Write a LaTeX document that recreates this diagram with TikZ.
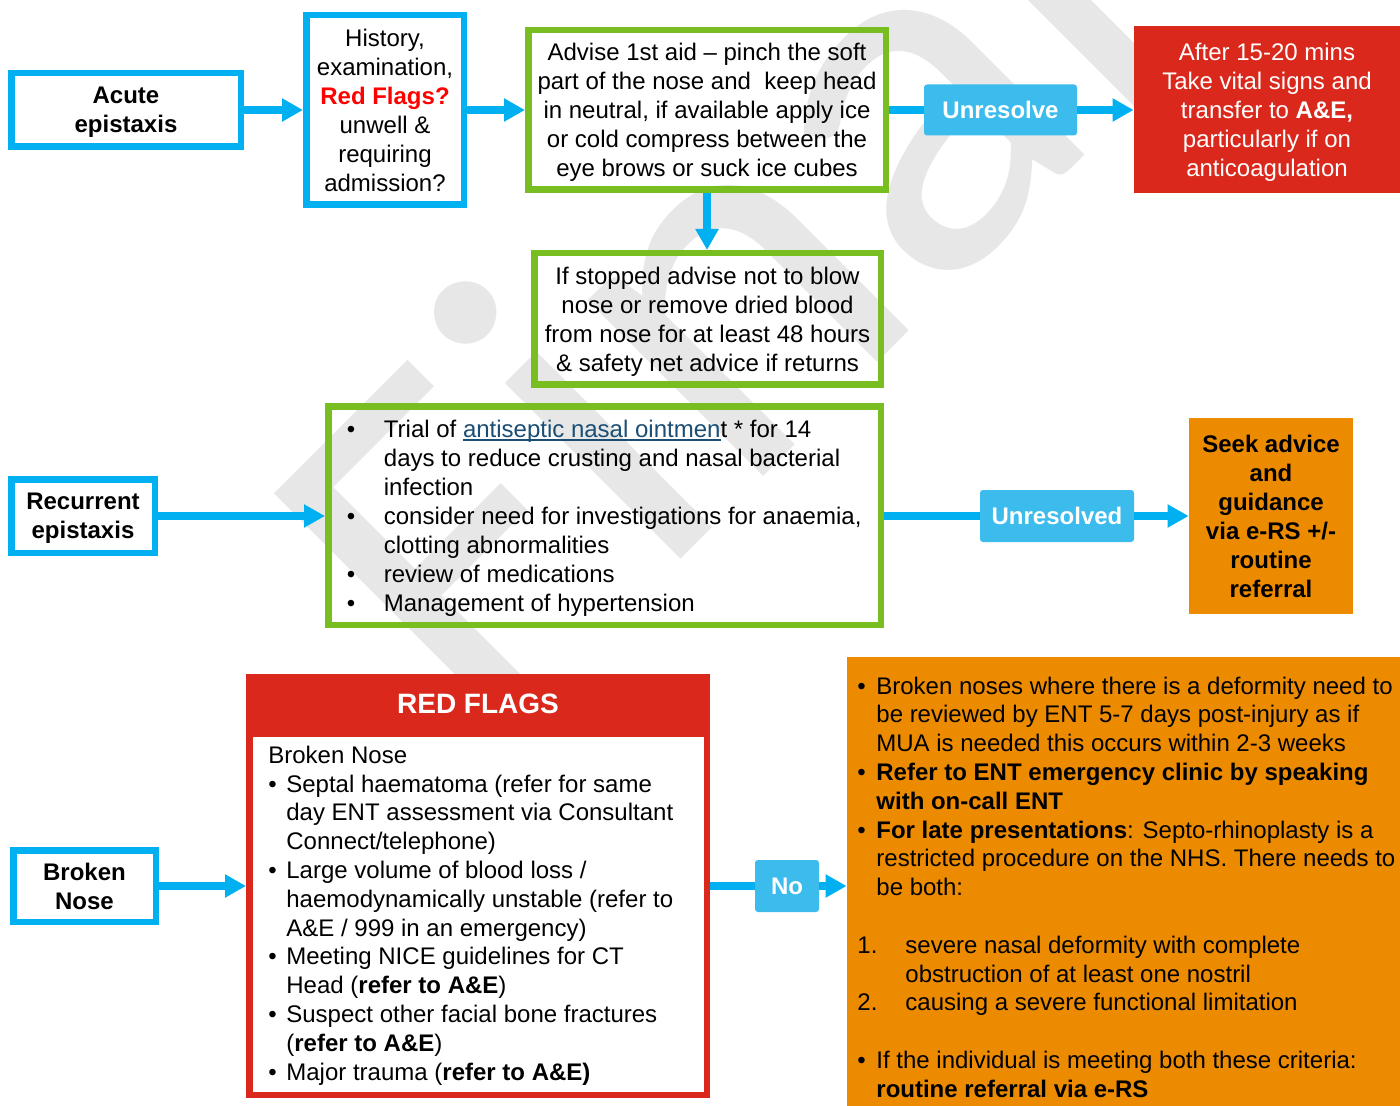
\documentclass[tikz,border=0pt]{standalone}
\usepackage{fontspec}
\setmainfont{Liberation Sans}
\newfontfamily\wmfont{Carlito}
\usetikzlibrary{arrows.meta,calc}
\definecolor{nhsblue}{HTML}{00B0F0}
\definecolor{lblue}{HTML}{3BBCEC}
\definecolor{boxgreen}{HTML}{78BE21}
\definecolor{boxred}{HTML}{DA291C}
\definecolor{boxorange}{HTML}{ED8B00}
\definecolor{linkblue}{HTML}{1A4E74}
\definecolor{wmgray}{HTML}{E7E7E7}
\definecolor{flagred}{HTML}{FF0000}
\newcommand\myul[1]{\setbox0\hbox{#1}\rlap{\rule[-1.6pt]{\wd0}{0.7pt}}\box0}
\newcommand\bu[1]{\makebox[#1][l]{•}}
\begin{document}
\begin{tikzpicture}[x=0.5pt,y=-0.5pt,
  base/.style={font=\fontsize{12}{14.5}\selectfont, inner sep=0pt},
  bluebox/.style={base, draw=nhsblue, line width=3.25pt, align=center},
  greenbox/.style={base, draw=boxgreen, line width=3.25pt},
  tag/.style={base, fill=lblue, text=white, font=\bfseries\fontsize{12}{14.5}\selectfont, rounded corners=1.5pt},
  conn/.style={draw=nhsblue, line width=4pt},
  arr/.style={conn, -{Triangle[length=10.5pt,width=11pt]}},
  txt/.style={base, anchor=west, align=left}
]
\fill[white] (0,0) rectangle (1400,1106);
\useasboundingbox (0,0) rectangle (1400,1106);

% watermark
\begin{scope}
\clip (0,0) rectangle (1400,1106);
\node[rotate=45, anchor=base west, inner sep=0pt, text=wmgray,
      font=\wmfont\fontsize{260}{300}\selectfont] (wm) at (485,755) {Final};
\end{scope}

% top row
\node[bluebox, minimum width=114.75pt, minimum height=36.75pt,
      font=\bfseries\fontsize{12}{14.5}\selectfont] (acute) at (126,110) {Acute\\\smash{epistaxis}};
\node[bluebox, minimum width=78.75pt, minimum height=94.75pt] (history) at (385,110)
  {History,\\examination,\\\textcolor{flagred}{\bfseries Red Flags?}\\unwell \&\\requiring\\admission?};
\node[greenbox, align=center, minimum width=178.75pt, minimum height=79.75pt] (advise) at (707,110)
  {Advise 1st aid \textendash{} pinch the soft\\part of the nose and\ \ keep head\\in neutral, if available apply ice\\or cold compress between the\\\smash{eye brows or suck ice cubes}};
\node[tag, minimum width=76.5pt, minimum height=25.5pt] (unres1) at (1000.5,110) {Unresolve};
\node[base, fill=boxred, text=white, align=center, minimum width=133pt, minimum height=83.5pt] (redbox) at (1267,109.5)
  {After 15-20 mins\\Take vital signs and\\transfer to \textbf{A\&E,}\\particularly if on\\\smash{anticoagulation}};
\node[greenbox, align=center, minimum width=173.25pt, minimum height=65.75pt] (stop) at (707.5,319)
  {If stopped advise not to blow\\nose or remove dried blood\\from nose for at least 48 hours\\\smash{\& safety net advice if returns}};

% recurrent row
\node[bluebox, minimum width=71.75pt, minimum height=36.75pt,
      font=\bfseries\fontsize{12}{14.5}\selectfont] (recurrent) at (83,516) {Recurrent\\\smash{epistaxis}};
\node[greenbox, minimum width=276.25pt, minimum height=109.25pt] (rec) at (604.5,515.5) {};
\node[txt] (rectext) at (346.5,516)
  {\bu{18.5pt}Trial of \textcolor{linkblue}{\myul{antiseptic nasal ointmen}}t * for 14\\
   \hspace*{18.5pt}days to reduce crusting and nasal bacterial\\
   \hspace*{18.5pt}infection\\
   \bu{18.5pt}consider need for investigations for anaemia,\\
   \hspace*{18.5pt}clotting abnormalities\\
   \bu{18.5pt}review of medications\\
   \smash{\bu{18.5pt}Management of hypertension}};
\node[tag, minimum width=77pt, minimum height=26pt] (unres2) at (1057,516) {Unresolved};
\node[base, fill=boxorange, align=center, font=\bfseries\fontsize{12}{14.5}\selectfont,
      minimum width=82pt, minimum height=98pt] (seek) at (1271,516)
  {Seek advice\\and\\guidance\\via e-RS +/-\\routine\\referral};

% broken nose row
\node[bluebox, minimum width=71.25pt, minimum height=35.75pt,
      font=\bfseries\fontsize{12}{14.5}\selectfont] (broken) at (84.5,886) {Broken\\Nose};
\node[base, fill=boxred, text=white, font=\bfseries\fontsize{14}{16}\selectfont,
      minimum width=232pt, minimum height=29.5pt] (rfhead) at (478,703.5) {RED FLAGS};
\node[base, draw=boxred, fill=white, line width=3.25pt,
      minimum width=228.75pt, minimum height=180.75pt] (rfbody) at (478,914) {};
\node[txt, font=\fontsize{12}{14.4}\selectfont] (rftext) at (268,913)
  {Broken Nose\\
   \bu{9pt}Septal haematoma (refer for same\\
   \hspace*{9pt}day ENT assessment via Consultant\\
   \hspace*{9pt}Connect/telephone)\\
   \bu{9pt}Large volume of blood loss /\\
   \hspace*{9pt}haemodynamically unstable (refer to\\
   \hspace*{9pt}A\&E / 999 in an emergency)\\
   \bu{9pt}Meeting NICE guidelines for CT\\
   \hspace*{9pt}Head (\textbf{refer to A\&E})\\
   \bu{9pt}Suspect other facial bone fractures\\
   \hspace*{9pt}(\textbf{refer to A\&E})\\
   \smash{\bu{9pt}Major trauma (\textbf{refer to A\&E)}}};
\node[tag, minimum width=32pt, minimum height=26pt] (no) at (787,886) {No};
\node[base, fill=boxorange, minimum width=276.5pt, minimum height=224.5pt] (orange) at (1123.5,881.5) {};
\node[txt, font=\fontsize{12}{14.4}\selectfont] (otext) at (857,887)
  {\bu{9.5pt}Broken noses where there is a deformity need to\\
   \hspace*{9.5pt}be reviewed by ENT 5-7 days post-injury as if\\
   \hspace*{9.5pt}MUA is needed this occurs within 2-3 weeks\\
   \bu{9.5pt}\textbf{Refer to ENT emergency clinic by speaking}\\
   \hspace*{9.5pt}\textbf{with on-call ENT}\\
   \bu{9.5pt}\textbf{For late presentations}: Septo-rhinoplasty is a\\
   \hspace*{9.5pt}restricted procedure on the NHS. There needs to\\
   \hspace*{9.5pt}be both:\\[14.4pt]
   \makebox[24pt][l]{1.}severe nasal deformity with complete\\
   \hspace*{24pt}obstruction of at least one nostril\\
   \makebox[24pt][l]{2.}causing a severe functional limitation\\[14.4pt]
   \bu{9.5pt}If the individual is meeting both these criteria:\\
   \smash{\hspace*{9.5pt}\textbf{routine referral via e-RS}}};

% connectors
\draw[arr] (acute.east) -- (acute.east -| history.west);
\draw[arr] (history.east) -- (history.east -| advise.west);
\draw[conn] (advise.east) -- (advise.east -| unres1.west);
\draw[arr] (unres1.east) -- (unres1.east -| redbox.west);
\draw[arr] (advise.south) -- (advise.south |- stop.north);
\draw[arr] (recurrent.east) -- (recurrent.east -| rec.west);
\draw[conn] (unres2.west -| rec.east) -- (unres2.west);
\draw[arr] (unres2.east) -- (unres2.east -| seek.west);
\draw[arr] (broken.east) -- (broken.east -| rfbody.west);
\draw[conn] (rfbody.east |- no.west) -- (no.west);
\draw[arr] (no.east) -- (no.east -| orange.west);
\end{tikzpicture}
\end{document}
